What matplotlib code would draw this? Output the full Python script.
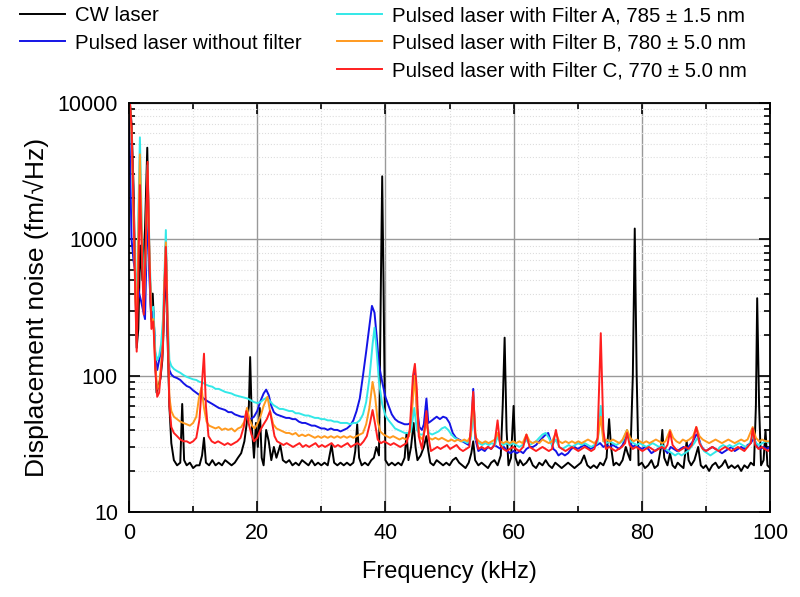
import matplotlib
matplotlib.use("Agg")
import matplotlib.pyplot as plt
from matplotlib.ticker import LogLocator, MultipleLocator, FixedLocator, NullFormatter

plt.rcParams['font.family'] = ['Liberation Sans', 'DejaVu Sans']

# (frequency in kHz, displacement noise in fm/sqrt(Hz))
cw_points = [
    (0.0, 9000), (0.15, 10000), (0.4, 7000), (0.7, 2500), (0.95, 600), (1.2, 160), (1.45, 220),
    (1.75, 900), (2.1, 500), (2.5, 1200), (2.85, 4700), (3.15, 800), (3.45, 260), (3.7, 400),
    (4.0, 180), (4.3, 75), (4.6, 85), (4.9, 95), (5.2, 130), (5.5, 300), (5.75, 900), (6.0, 200),
    (6.3, 60), (6.6, 32), (7.0, 24), (7.5, 22), (8.0, 23), (8.3, 62), (8.6, 24), (9.0, 22),
    (9.5, 23), (10.0, 21), (10.5, 22), (11.0, 22), (11.4, 26), (11.7, 35), (12.0, 23), (12.5, 22),
    (13.0, 24), (13.5, 22), (14.0, 23), (14.5, 22), (15.0, 24), (15.5, 23), (16.0, 22), (16.5, 23),
    (17.0, 25), (17.5, 27), (18.0, 33), (18.5, 50), (18.7, 60), (18.9, 137), (19.2, 40), (19.5, 25),
    (19.8, 45), (20.1, 30), (20.4, 58), (20.7, 25), (21.0, 22), (21.4, 40), (21.8, 33), (22.2, 24),
    (22.6, 30), (23.0, 25), (23.6, 31), (24.0, 24), (24.5, 23), (25.0, 24), (25.5, 22), (26.0, 23),
    (26.5, 22), (27.0, 24), (27.5, 23), (28.0, 22), (28.5, 24), (29.0, 22), (29.5, 23), (30.0, 22),
    (30.5, 23), (31.0, 22), (31.6, 31), (32.0, 23), (32.5, 22), (33.0, 23), (33.5, 22), (34.0, 23),
    (34.5, 22), (35.0, 23), (35.3, 28), (35.6, 44), (35.9, 25), (36.3, 22), (36.8, 23), (37.3, 22),
    (37.8, 24), (38.2, 25), (38.6, 30), (39.0, 26), (39.3, 500), (39.5, 2900), (39.7, 500),
    (40.0, 24), (40.5, 22), (41.0, 23), (41.5, 22), (42.0, 23), (42.5, 22), (43.0, 25), (43.3, 38),
    (43.6, 24), (44.0, 30), (44.4, 45), (44.7, 30), (45.0, 24), (45.5, 26), (46.0, 30), (46.4, 36),
    (46.7, 28), (47.0, 23), (47.5, 22), (48.0, 24), (48.5, 23), (49.0, 22), (49.5, 23), (50.0, 22),
    (50.5, 24), (51.0, 25), (51.5, 23), (52.0, 22), (52.5, 21), (53.0, 23), (53.4, 27), (53.7, 33),
    (54.0, 24), (54.5, 22), (55.0, 23), (55.5, 22), (56.0, 21), (56.5, 23), (57.0, 24), (57.5, 22),
    (58.0, 26), (58.3, 60), (58.6, 190), (58.9, 40), (59.2, 22), (59.6, 25), (60.0, 60), (60.3, 25),
    (60.7, 22), (61.0, 24), (61.5, 22), (62.0, 23), (62.5, 25), (63.0, 22), (63.5, 21), (64.0, 23),
    (64.5, 22), (65.0, 24), (65.5, 22), (66.0, 21), (66.5, 23), (67.0, 22), (67.5, 21), (68.0, 22),
    (68.5, 23), (69.0, 22), (69.5, 21), (70.0, 22), (70.5, 23), (71.0, 26), (71.5, 22), (72.0, 21),
    (72.5, 22), (73.0, 21), (73.5, 23), (74.0, 22), (74.5, 25), (74.9, 48), (75.2, 30), (75.6, 22),
    (76.0, 23), (76.5, 22), (77.0, 24), (77.5, 30), (77.8, 27), (78.2, 24), (78.6, 100), (78.9, 1200),
    (79.2, 100), (79.5, 22), (80.0, 23), (80.5, 21), (81.0, 22), (81.5, 24), (82.0, 21), (82.5, 22),
    (83.0, 30), (83.2, 40), (83.5, 25), (84.0, 22), (84.4, 27), (84.8, 22), (85.2, 21), (85.6, 23),
    (86.0, 22), (86.5, 21), (87.0, 33), (87.3, 24), (87.7, 22), (88.2, 24), (88.8, 30), (89.2, 22),
    (89.6, 21), (90.0, 22), (90.5, 20), (91.0, 22), (91.5, 23), (92.0, 21), (92.5, 22), (93.0, 24),
    (93.5, 21), (94.0, 22), (94.5, 21), (95.0, 22), (95.5, 20), (96.0, 22), (96.5, 21), (97.0, 23),
    (97.5, 22), (97.8, 60), (98.0, 370), (98.3, 60), (98.6, 22), (99.0, 24), (99.3, 40), (99.6, 22),
    (100.0, 21),
]

no_filter_points = [
    (0.0, 9000), (0.15, 4000), (0.4, 1000), (0.7, 700), (1.0, 560), (1.3, 470), (1.6, 400),
    (1.9, 350), (2.2, 300), (2.5, 260), (2.9, 1800), (3.2, 500), (3.5, 260), (3.8, 300), (4.1, 140),
    (4.4, 110), (4.7, 130), (5.0, 150), (5.3, 200), (5.5, 400), (5.75, 900), (6.0, 220), (6.3, 110),
    (6.6, 102), (7.0, 98), (7.5, 96), (8.0, 93), (8.5, 88), (9.0, 84), (9.5, 82), (10.0, 78),
    (10.5, 75), (11.0, 72), (11.5, 69), (12.0, 66), (12.5, 64), (13.0, 62), (13.5, 60), (14.0, 58),
    (14.5, 57), (15.0, 56), (15.5, 54), (16.0, 54), (16.5, 52), (17.0, 51), (17.5, 50), (18.0, 50),
    (18.5, 49), (19.0, 48), (19.5, 50), (20.0, 55), (20.5, 65), (21.0, 74), (21.4, 79), (21.8, 72),
    (22.2, 60), (22.6, 54), (23.0, 52), (23.5, 51), (24.0, 50), (24.5, 49), (25.0, 49), (25.5, 48),
    (26.0, 48), (26.5, 46), (27.0, 45), (27.5, 45), (28.0, 44), (28.5, 43), (29.0, 43), (29.5, 42),
    (30.0, 41), (30.5, 41), (31.0, 40), (31.5, 41), (32.0, 40), (32.5, 40), (33.0, 39), (33.5, 40),
    (34.0, 41), (34.5, 43), (35.0, 47), (35.5, 55), (36.0, 68), (36.5, 100), (37.0, 150), (37.5, 230),
    (37.9, 325), (38.3, 290), (38.7, 180), (39.0, 120), (39.5, 90), (40.0, 70), (40.5, 60), (41.0, 52),
    (41.5, 48), (42.0, 46), (42.5, 45), (43.0, 44), (43.5, 44), (44.0, 45), (44.3, 80), (44.6, 110),
    (44.9, 60), (45.3, 42), (45.7, 40), (46.0, 44), (46.4, 68), (46.7, 45), (47.0, 46), (47.5, 48),
    (48.0, 50), (48.5, 48), (49.0, 50), (49.5, 49), (50.0, 45), (50.5, 38), (51.0, 35), (51.5, 34),
    (52.0, 33), (52.5, 32), (53.0, 31), (53.4, 40), (53.7, 80), (54.0, 35), (54.5, 28), (55.0, 29),
    (55.5, 28), (56.0, 30), (56.5, 29), (57.0, 31), (57.5, 30), (58.0, 29), (58.5, 30), (59.0, 28),
    (59.5, 27), (60.0, 28), (60.5, 27), (61.0, 28), (61.5, 27), (62.0, 29), (62.5, 30), (63.0, 30),
    (63.5, 31), (64.0, 33), (64.5, 35), (65.0, 37), (65.4, 38), (65.8, 33), (66.2, 29), (66.6, 28),
    (67.0, 26), (67.5, 27), (68.0, 26), (68.5, 27), (69.0, 29), (69.5, 30), (70.0, 29), (70.5, 30),
    (71.0, 31), (71.5, 30), (72.0, 29), (72.5, 30), (73.0, 31), (73.5, 32), (74.0, 30), (74.5, 31),
    (75.0, 30), (75.5, 31), (76.0, 30), (76.5, 29), (77.0, 31), (77.5, 35), (77.8, 37), (78.2, 32),
    (78.6, 30), (79.0, 31), (79.5, 30), (80.0, 29), (80.5, 30), (81.0, 29), (81.5, 27), (82.0, 28),
    (82.5, 29), (83.0, 30), (83.5, 29), (84.0, 27), (84.5, 30), (85.0, 29), (85.5, 28), (86.0, 29),
    (86.5, 30), (87.0, 29), (87.5, 31), (88.0, 33), (88.5, 37), (88.8, 36), (89.2, 31), (89.6, 29),
    (90.0, 28), (90.5, 29), (91.0, 30), (91.5, 29), (92.0, 28), (92.5, 27), (93.0, 28), (93.5, 29),
    (94.0, 30), (94.5, 28), (95.0, 29), (95.5, 30), (96.0, 29), (96.5, 31), (97.0, 32), (97.5, 35),
    (98.0, 30), (98.5, 29), (99.0, 30), (99.5, 29), (100.0, 30),
]

filter_a_points = [
    (0.0, 9200), (0.15, 9500), (0.4, 5500), (0.7, 1500), (0.95, 600), (1.2, 260), (1.45, 1500),
    (1.7, 5600), (2.0, 1300), (2.3, 350), (2.6, 700), (2.9, 3500), (3.2, 800), (3.5, 300), (3.8, 320),
    (4.1, 150), (4.4, 130), (4.7, 140), (5.0, 170), (5.3, 260), (5.5, 500), (5.75, 1170), (6.0, 300),
    (6.3, 130), (6.6, 118), (7.0, 112), (7.5, 108), (8.0, 105), (8.5, 101), (9.0, 98), (9.5, 96),
    (10.0, 94), (10.5, 93), (11.0, 90), (11.5, 89), (12.0, 86), (12.5, 84), (13.0, 83), (13.5, 80),
    (14.0, 80), (14.5, 78), (15.0, 76), (15.5, 75), (16.0, 74), (16.5, 72), (17.0, 71), (17.5, 70),
    (18.0, 69), (18.5, 68), (19.0, 66), (19.5, 64), (20.0, 63), (20.5, 64), (21.0, 67), (21.5, 69),
    (22.0, 65), (22.5, 61), (23.0, 59), (23.5, 57), (24.0, 57), (24.5, 56), (25.0, 55), (25.5, 55),
    (26.0, 53), (26.5, 53), (27.0, 52), (27.5, 51), (28.0, 51), (28.5, 50), (29.0, 49), (29.5, 49),
    (30.0, 48), (30.5, 48), (31.0, 47), (31.5, 47), (32.0, 46), (32.5, 46), (33.0, 45), (33.5, 45),
    (34.0, 45), (34.5, 44), (35.0, 45), (35.5, 45), (36.0, 47), (36.5, 52), (37.0, 64), (37.5, 95),
    (38.0, 170), (38.3, 225), (38.6, 160), (39.0, 90), (39.5, 62), (40.0, 51), (40.5, 47), (41.0, 44),
    (41.5, 41), (42.0, 40), (42.5, 39), (43.0, 38), (43.5, 38), (44.0, 39), (44.5, 58), (44.9, 40),
    (45.4, 37), (45.9, 37), (46.4, 46), (46.8, 38), (47.3, 37), (47.8, 38), (48.3, 39), (48.8, 41),
    (49.3, 42), (49.8, 40), (50.3, 37), (50.8, 35), (51.3, 34), (51.8, 33), (52.3, 33), (52.8, 32),
    (53.3, 34), (53.7, 55), (54.1, 34), (54.6, 32), (55.1, 31), (55.6, 32), (56.1, 31), (56.6, 32),
    (57.1, 31), (57.5, 36), (57.9, 32), (58.4, 31), (58.9, 32), (59.4, 31), (59.9, 32), (60.4, 31),
    (60.9, 30), (61.4, 31), (62.0, 34), (62.5, 31), (63.0, 32), (63.5, 33), (64.0, 35), (64.5, 37),
    (65.0, 38), (65.5, 35), (66.0, 31), (66.6, 34), (67.1, 30), (67.6, 29), (68.1, 30), (68.6, 31),
    (69.1, 30), (69.6, 31), (70.1, 32), (70.6, 31), (71.1, 32), (71.6, 31), (72.1, 30), (72.6, 31),
    (73.1, 32), (73.6, 60), (74.0, 33), (74.5, 32), (75.0, 33), (75.5, 32), (76.0, 31), (76.5, 32),
    (77.0, 33), (77.7, 40), (78.2, 33), (78.7, 32), (79.2, 31), (79.7, 32), (80.2, 31), (80.7, 30),
    (81.2, 31), (81.7, 32), (82.2, 31), (82.7, 30), (83.2, 31), (83.7, 29), (84.2, 28), (84.7, 27),
    (85.2, 26), (85.7, 27), (86.2, 26), (86.7, 27), (87.2, 28), (87.7, 30), (88.2, 32), (88.7, 35),
    (89.2, 31), (89.7, 28), (90.2, 27), (90.7, 26), (91.2, 27), (91.7, 28), (92.2, 30), (92.7, 31),
    (93.2, 30), (93.7, 31), (94.2, 30), (94.7, 31), (95.2, 32), (95.7, 31), (96.2, 30), (96.7, 31),
    (97.3, 36), (97.8, 32), (98.3, 31), (98.8, 32), (99.3, 33), (100.0, 32),
]

filter_b_points = [
    (0.0, 9500), (0.15, 9800), (0.4, 6000), (0.7, 1600), (0.95, 500), (1.2, 200), (1.45, 1000),
    (1.7, 4200), (2.0, 1000), (2.3, 300), (2.6, 800), (2.9, 3200), (3.2, 700), (3.5, 250), (3.8, 260),
    (4.1, 120), (4.4, 80), (4.7, 85), (5.0, 120), (5.3, 180), (5.5, 450), (5.75, 950), (6.0, 280),
    (6.3, 70), (6.6, 55), (7.0, 50), (7.5, 48), (8.0, 46), (8.5, 45), (9.0, 44), (9.5, 43), (10.0, 45),
    (10.5, 50), (10.9, 68), (11.3, 82), (11.7, 58), (12.1, 46), (12.5, 43), (13.0, 42), (13.5, 41),
    (14.0, 42), (14.5, 40), (15.0, 41), (15.5, 40), (16.0, 41), (16.5, 39), (17.0, 41), (17.5, 42),
    (18.0, 46), (18.4, 58), (18.8, 48), (19.2, 43), (19.6, 41), (20.0, 44), (20.5, 50), (21.0, 60),
    (21.6, 70), (22.0, 55), (22.5, 44), (23.0, 41), (23.5, 40), (24.0, 39), (24.5, 38), (25.0, 38),
    (25.5, 37), (26.0, 38), (26.5, 36), (27.0, 37), (27.5, 36), (28.0, 37), (28.5, 36), (29.0, 35),
    (29.5, 36), (30.0, 35), (30.5, 36), (31.0, 35), (31.5, 36), (32.0, 35), (32.5, 36), (33.0, 35),
    (33.5, 36), (34.0, 35), (34.5, 36), (35.0, 35), (35.5, 36), (36.0, 37), (36.5, 38), (37.0, 44),
    (37.5, 58), (38.0, 90), (38.4, 70), (38.8, 46), (39.2, 39), (39.7, 37), (40.2, 36), (40.7, 35),
    (41.2, 36), (41.7, 35), (42.2, 34), (42.7, 35), (43.2, 34), (43.7, 36), (44.2, 60), (44.6, 100),
    (44.9, 55), (45.3, 36), (45.8, 34), (46.4, 45), (46.8, 35), (47.3, 34), (47.8, 35), (48.3, 34),
    (48.8, 35), (49.3, 34), (49.8, 33), (50.3, 34), (50.8, 33), (51.3, 34), (51.8, 33), (52.3, 34),
    (52.8, 33), (53.3, 36), (53.7, 70), (54.1, 35), (54.6, 33), (55.1, 32), (55.6, 33), (56.1, 32),
    (56.6, 33), (57.1, 34), (57.5, 38), (57.9, 33), (58.4, 32), (58.9, 33), (59.4, 32), (59.9, 33),
    (60.4, 32), (60.9, 33), (61.4, 32), (62.0, 37), (62.5, 33), (63.0, 32), (63.5, 33), (64.0, 32),
    (64.5, 34), (65.0, 33), (65.5, 32), (66.0, 33), (66.6, 38), (67.1, 33), (67.6, 32), (68.1, 33),
    (68.6, 32), (69.1, 33), (69.6, 32), (70.1, 33), (70.6, 32), (71.1, 33), (71.6, 34), (72.1, 33),
    (72.6, 32), (73.1, 34), (73.6, 50), (74.0, 33), (74.5, 34), (75.0, 33), (75.5, 34), (76.0, 33),
    (76.5, 32), (77.0, 34), (77.7, 40), (78.2, 35), (78.7, 33), (79.2, 34), (79.7, 33), (80.2, 32),
    (80.7, 33), (81.2, 32), (81.7, 33), (82.2, 34), (82.7, 33), (83.2, 32), (83.7, 33), (84.4, 40),
    (84.9, 35), (85.4, 33), (85.9, 32), (86.4, 34), (86.9, 33), (87.4, 34), (88.0, 36), (88.5, 42),
    (89.0, 36), (89.5, 34), (90.0, 33), (90.5, 32), (91.0, 33), (91.5, 34), (92.0, 33), (92.5, 32),
    (93.0, 33), (93.5, 34), (94.0, 33), (94.5, 32), (95.0, 33), (95.5, 34), (96.0, 33), (96.5, 34),
    (97.3, 42), (97.8, 35), (98.3, 33), (98.8, 34), (99.3, 33), (100.0, 33),
]

filter_c_points = [
    (0.0, 9500), (0.15, 10000), (0.4, 6500), (0.7, 1800), (0.95, 450), (1.2, 150), (1.45, 500),
    (1.7, 2500), (2.0, 800), (2.3, 280), (2.6, 900), (2.9, 3700), (3.2, 700), (3.5, 220), (3.8, 250),
    (4.1, 110), (4.4, 70), (4.7, 75), (5.0, 110), (5.3, 160), (5.5, 400), (5.75, 880), (6.0, 250),
    (6.3, 60), (6.6, 42), (7.0, 38), (7.5, 36), (8.0, 34), (8.5, 33), (9.0, 33), (9.5, 32), (10.0, 33),
    (10.5, 35), (11.0, 48), (11.4, 90), (11.7, 145), (12.0, 60), (12.4, 36), (12.9, 33), (13.4, 32),
    (13.9, 33), (14.4, 32), (14.9, 31), (15.4, 32), (15.9, 31), (16.4, 32), (16.9, 33), (17.4, 35),
    (17.9, 42), (18.3, 55), (18.7, 44), (19.1, 37), (19.5, 33), (20.0, 35), (20.5, 40), (21.0, 44),
    (21.5, 48), (22.0, 55), (22.3, 46), (22.7, 36), (23.1, 33), (23.6, 32), (24.1, 31), (24.6, 32),
    (25.1, 31), (25.6, 30), (26.1, 31), (26.6, 32), (27.1, 30), (27.6, 31), (28.1, 30), (28.6, 31),
    (29.1, 32), (29.6, 30), (30.1, 31), (30.6, 30), (31.1, 31), (31.6, 32), (32.1, 30), (32.6, 31),
    (33.1, 30), (33.6, 31), (34.1, 32), (34.6, 30), (35.1, 31), (35.6, 32), (36.1, 31), (36.6, 33),
    (37.1, 36), (37.6, 45), (38.0, 56), (38.4, 44), (38.8, 34), (39.3, 32), (39.8, 33), (40.3, 32),
    (40.8, 31), (41.3, 32), (41.8, 31), (42.3, 30), (42.8, 31), (43.3, 32), (43.8, 40), (44.3, 100),
    (44.6, 122), (44.9, 80), (45.2, 36), (45.7, 29), (46.1, 40), (46.4, 55), (46.7, 36), (47.1, 28),
    (47.6, 29), (48.1, 30), (48.6, 29), (49.1, 30), (49.6, 31), (50.1, 29), (50.6, 30), (51.1, 31),
    (51.6, 29), (52.1, 28), (52.6, 29), (53.1, 30), (53.4, 48), (53.7, 76), (54.0, 38), (54.5, 29),
    (55.0, 30), (55.5, 29), (56.0, 30), (56.5, 29), (57.0, 31), (57.5, 47), (57.9, 31), (58.4, 29),
    (58.9, 28), (59.4, 29), (59.9, 30), (60.4, 29), (60.9, 28), (61.5, 30), (62.0, 37), (62.5, 30),
    (63.0, 29), (63.5, 28), (64.0, 29), (64.5, 30), (65.0, 29), (65.5, 28), (66.0, 29), (66.6, 40),
    (67.1, 30), (67.6, 29), (68.1, 28), (68.6, 29), (69.1, 30), (69.6, 29), (70.1, 28), (70.6, 29),
    (71.1, 30), (71.6, 29), (72.1, 28), (72.6, 29), (73.1, 35), (73.6, 205), (74.0, 40), (74.4, 29),
    (74.9, 30), (75.4, 29), (75.9, 28), (76.4, 29), (76.9, 30), (77.4, 32), (77.7, 38), (78.1, 31),
    (78.6, 29), (79.1, 30), (79.6, 29), (80.1, 28), (80.6, 29), (81.1, 30), (81.6, 29), (82.1, 28),
    (82.6, 29), (83.1, 30), (83.6, 29), (84.0, 31), (84.4, 39), (84.8, 31), (85.3, 29), (85.8, 28),
    (86.3, 29), (86.8, 30), (87.3, 29), (87.8, 31), (88.5, 42), (89.0, 32), (89.5, 29), (90.0, 28),
    (90.5, 29), (91.0, 30), (91.5, 29), (92.0, 28), (92.5, 29), (93.0, 30), (93.5, 29), (94.0, 28),
    (94.5, 29), (95.0, 30), (95.5, 29), (96.0, 28), (96.5, 30), (97.0, 32), (97.3, 41), (97.7, 31),
    (98.2, 29), (98.7, 30), (99.2, 29), (99.7, 28), (100.0, 29),
]

series = [
    ("CW laser", cw_points, "#000000"),
    ("Pulsed laser without filter", no_filter_points, "#1414e6"),
    ("Pulsed laser with Filter A, 785 \u00b1 1.5 nm", filter_a_points, "#33e8e8"),
    ("Pulsed laser with Filter B, 780 \u00b1 5.0 nm", filter_b_points, "#ff9a1f"),
    ("Pulsed laser with Filter C, 770 \u00b1 5.0 nm", filter_c_points, "#ff1f1f"),
]

fig = plt.figure(figsize=(8.0, 5.97), dpi=100)
ax = fig.add_axes([129 / 800, 1 - 512 / 597, (770 - 129) / 800, (512 - 103) / 597])

handles = []
for label, pts, color in series:
    f, v = zip(*pts)
    line, = ax.plot(f, v, color=color, linewidth=1.4, label=label)
    handles.append(line)

ax.set_yscale("log")
ax.set_xlim(0, 100)
ax.set_ylim(10, 10000)

ax.xaxis.set_major_locator(MultipleLocator(20))
ax.xaxis.set_minor_locator(MultipleLocator(10))
ax.yaxis.set_major_locator(FixedLocator([10, 100, 1000, 10000]))
ax.yaxis.set_minor_locator(LogLocator(base=10, subs=range(2, 10)))
ax.yaxis.set_minor_formatter(NullFormatter())
ax.set_yticklabels(["10", "100", "1000", "10000"])

ax.grid(True, which="major", color="#999999", linewidth=1.0)
ax.grid(True, which="minor", color="#dddddd", linewidth=0.8, linestyle=":")
ax.set_axisbelow(True)

ax.tick_params(which="both", direction="in", top=True, right=True, labelsize=15.5, width=1.2)
ax.tick_params(which="major", length=8, pad=8)
ax.tick_params(which="minor", length=4.5)
for sp in ax.spines.values():
    sp.set_linewidth(1.3)

ax.set_xlabel("Frequency (kHz)", fontsize=17, labelpad=12)
ax.set_ylabel("Displacement noise (fm/\u221aHz)", fontsize=19, labelpad=6)

leg_kw = dict(frameon=False, fontsize=14.7, handlelength=2.2, handletextpad=0.5,
              labelspacing=0.42, borderaxespad=0, borderpad=0)
fig.legend(handles=handles[:2], loc="upper left", bbox_to_anchor=(20 / 800, 1 - 6 / 597), **leg_kw)
fig.legend(handles=handles[2:], loc="upper left", bbox_to_anchor=(337 / 800, 1 - 6 / 597), **leg_kw)

fig.savefig("out.png", dpi=100)
